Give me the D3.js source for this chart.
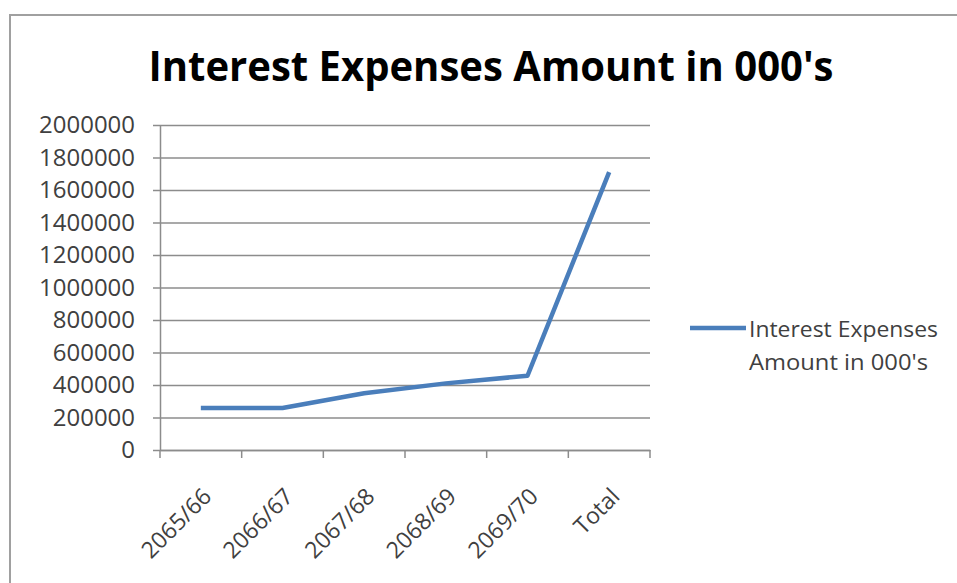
<!DOCTYPE html>
<html>
<head>
<meta charset="utf-8">
<script src="https://cdn.jsdelivr.net/npm/d3@7/dist/d3.min.js"></script>
<style>
  html, body { margin: 0; padding: 0; background: #fff; }
  svg { display: block; }
  text { font-family: "Open Sans", "Noto Sans", sans-serif; }
</style>
</head>
<body>
<svg id="chart" width="957" height="583"></svg>
<script>
const title = "Interest Expenses Amount in 000's";
const categories = ["2065/66", "2066/67", "2067/68", "2068/69", "2069/70", "Total"];
const values = [258000, 258000, 349000, 410000, 457000, 1710000];
const yTicks = [0, 200000, 400000, 600000, 800000, 1000000, 1200000, 1400000, 1600000, 1800000, 2000000];
const legendLines = ["Interest Expenses", "Amount in 000's"];

(function () {
const svg = d3.select("#chart");
const pLeft = 160, pRight = 650, pTop = 125, pBottom = 450;

svg.append("rect").attr("x", 0).attr("y", 0).attr("width", 957).attr("height", 583).attr("fill", "#ffffff");
svg.append("path").attr("d", "M10,583 V15 H957").attr("fill", "none").attr("stroke", "#a0a0a0").attr("stroke-width", 2);

svg.append("text")
  .attr("x", 491).attr("y", 81)
  .attr("text-anchor", "middle")
  .attr("font-size", 42).attr("font-weight", "bold").attr("fill", "#000")
  .attr("textLength", 685).attr("lengthAdjust", "spacingAndGlyphs")
  .text(title);

const x = d3.scaleBand().domain(categories).range([pLeft, pRight]).padding(0);
const y = d3.scaleLinear().domain([0, 2000000]).range([pBottom, pTop]);

const yAxis = d3.axisLeft(y).tickValues(yTicks).tickSize(-(pRight - pLeft)).tickSizeOuter(0).tickPadding(25).tickFormat(d3.format("d"));
const gy = svg.append("g").attr("transform", `translate(${pLeft},0)`).call(yAxis);
gy.select(".domain").attr("stroke", "#8c8c8c").attr("stroke-width", 1.5);
gy.selectAll(".tick line").attr("stroke", "#8c8c8c").attr("stroke-width", 1.5).attr("x1", -7);
gy.selectAll(".tick text").attr("font-size", 24).attr("fill", "#404040")
  .attr("lengthAdjust", "spacingAndGlyphs")
  .each(function (d) { d3.select(this).attr("textLength", String(d).length * 13.7); });

const xAxis = d3.axisBottom(x).tickSize(0).tickFormat(d => d);
const gx = svg.append("g").attr("transform", `translate(0,${pBottom})`).call(xAxis);
gx.select(".domain").attr("stroke", "#8c8c8c").attr("stroke-width", 1.5);
const bounds = categories.map(c => x(c)).concat([x(categories[categories.length - 1]) + x.bandwidth()]);
gx.selectAll(".bound").data(bounds).enter().append("line")
  .attr("class", "bound")
  .attr("x1", d => d).attr("x2", d => d).attr("y1", 0).attr("y2", 8)
  .attr("stroke", "#8c8c8c").attr("stroke-width", 1.5);
gx.selectAll(".tick text")
  .attr("font-size", 23).attr("fill", "#404040")
  .attr("text-anchor", "end")
  .attr("dy", 0).attr("y", 0)
  .attr("transform", "translate(12,48) rotate(-45)");

const line = d3.line().x((d, i) => x(categories[i]) + x.bandwidth() / 2).y(d => y(d));
svg.append("path").datum(values)
  .attr("d", line)
  .attr("fill", "none").attr("stroke", "#4a7ebb").attr("stroke-width", 4.5)
  .attr("stroke-linejoin", "round");

const lg = svg.append("g");
lg.append("line").attr("x1", 690).attr("x2", 746).attr("y1", 328).attr("y2", 328)
  .attr("stroke", "#4a7ebb").attr("stroke-width", 4.5);
const legendLens = [189, 179];
lg.selectAll("text").data(legendLines).enter().append("text")
  .attr("x", 749).attr("y", (d, i) => 337 + i * 33)
  .attr("font-size", 22).attr("fill", "#404040")
  .attr("textLength", (d, i) => legendLens[i]).attr("lengthAdjust", "spacingAndGlyphs")
  .text(d => d);
})();
</script>
</body>
</html>
